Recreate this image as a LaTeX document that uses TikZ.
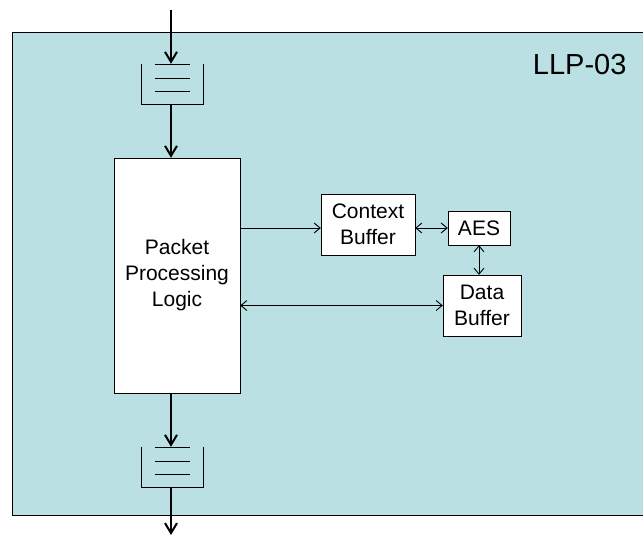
\documentclass[tikz,border=0pt]{standalone}
\usepackage{fontspec}
\setmainfont{Liberation Sans}
\usetikzlibrary{arrows.meta,positioning}
\definecolor{panel}{HTML}{BBE0E3}
\begin{document}
\begin{tikzpicture}[x=1pt,y=-1pt,
	blk/.style={draw,fill=white,align=center,inner sep=0pt,
		font=\fontsize{21}{26}\selectfont},
	fifo/.style={minimum width=62pt,minimum height=40pt,inner sep=0pt},
	flow/.style={line width=2.4pt,-{Straight Barb[length=10pt,width=12pt,line width=2pt]}},
	sig/.style={line width=0.9pt,-{Straight Barb[length=6pt,width=10pt]}},
	bisig/.style={line width=0.9pt,{Straight Barb[length=6pt,width=10pt]}-{Straight Barb[length=6pt,width=10pt]}}]
	\useasboundingbox (0,0) rectangle (643,535);
	\fill [panel] (12,32) rectangle (650,515);
	\draw (650,32)--(12,32)--(12,515)--(650,515);
	\node [font=\fontsize{29}{32}\selectfont, anchor=base east] (name) at (630,75) {LLP-03};
	% queues
	\node [fifo] (q1) at (172,84) {};
	\node [fifo] (q2) at (172,467) {};
	\foreach \q in {q1,q2} {
		\draw (\q.north west)--(\q.south west)--(\q.south east)--(\q.north east);
		\draw ([xshift=14pt]\q.north west)--([xshift=-13pt]\q.north east);
		\draw ([xshift=14pt,yshift=-14pt]\q.north west)--([xshift=-13pt,yshift=-14pt]\q.north east);
		\draw ([xshift=14pt,yshift=-27pt]\q.north west)--([xshift=-13pt,yshift=-27pt]\q.north east);
	}
	% blocks
	\node [blk, minimum width=126pt, minimum height=235pt] (ppl) at (177,275.5) {Packet\\Processing\\Logic};
	\node [blk, minimum width=94pt, minimum height=61pt] (ctx) at (368,224.5) {Context\\Buffer};
	\node [blk, minimum width=62pt, minimum height=34pt] (aes) at (479,228) {AES};
	\node [blk, minimum width=78pt, minimum height=61pt] (dbuf) at (482,305.5) {Data\\Buffer};
	\coordinate (in) at (171,10);
	\coordinate (out) at (171,535);
	\draw [flow] (in)--(q1.north -| in);
	\draw [flow] (q1.south -| in)--(ppl.north -| in);
	\draw [flow] (ppl.south -| in)--(q2.north -| in);
	\draw [flow] (q2.south -| in)--(out);
	\draw [sig] (ppl.east |- aes.west)--(ctx.west |- aes.west);
	\draw [bisig] (ctx.east |- aes.west)--(aes.west);
	\draw [bisig] (aes.south)--(aes.south |- dbuf.north);
	\draw [bisig] (ppl.east |- dbuf.west)--(dbuf.west);
\end{tikzpicture}
\end{document}
